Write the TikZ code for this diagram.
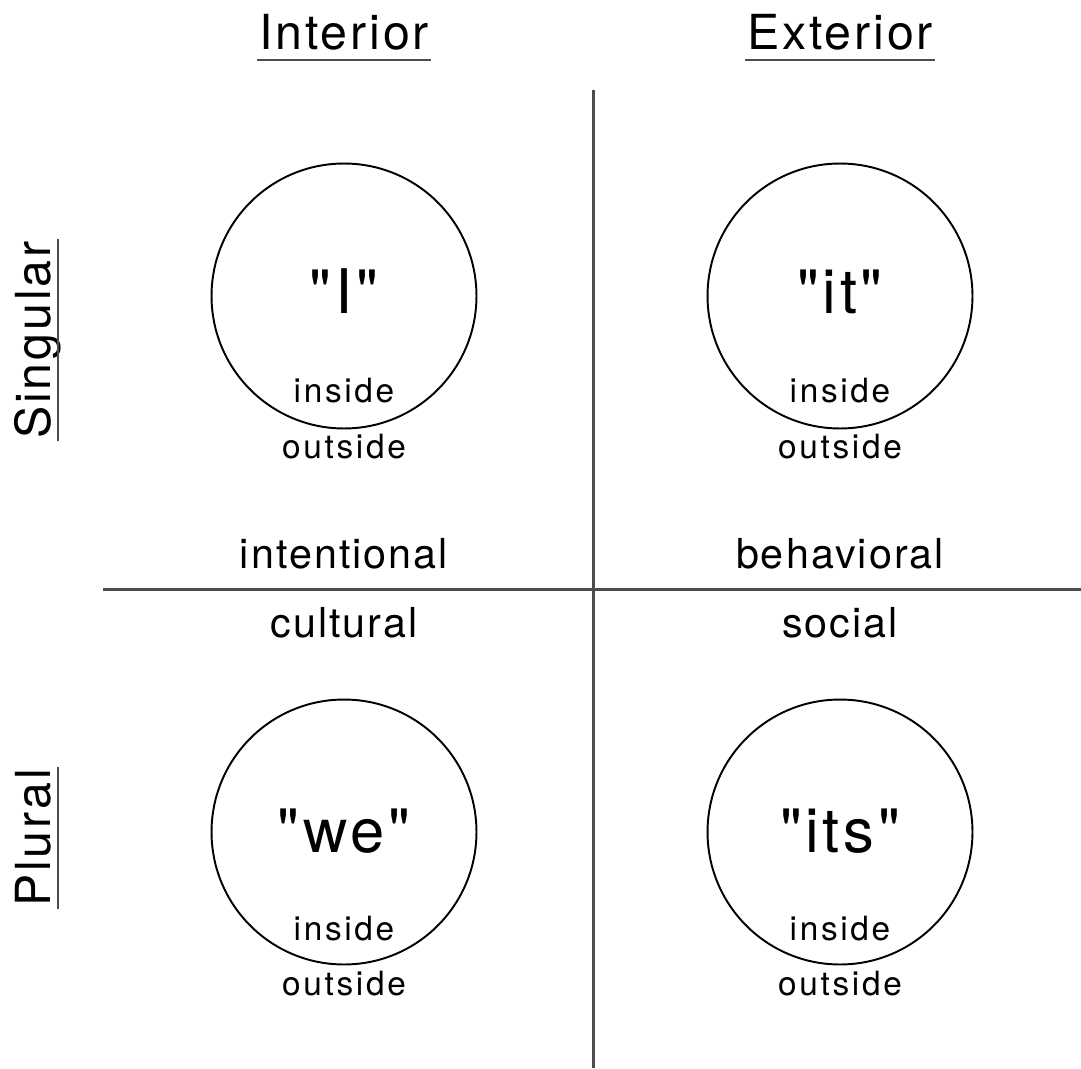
\documentclass[tikz,border=0pt]{standalone}
\usepackage{fontspec}
\setmainfont{TeX Gyre Heros}[Ligatures=TeXOff]
\usepackage{tikz}
\usetikzlibrary{calc}

\begin{document}
\begin{tikzpicture}[x=0.02cm, y=-0.02cm,
    head/.style={inner sep=0pt, font=\fontsize{27.5}{30}\selectfont\addfontfeature{LetterSpace=6}},
    pron/.style={inner sep=0pt, font=\fontsize{35}{38}\selectfont\addfontfeature{LetterSpace=6}},
    quad/.style={inner sep=0pt, font=\fontsize{23.5}{26}\selectfont\addfontfeature{LetterSpace=5}},
    side/.style={inner sep=0pt, font=\fontsize{19}{21}\selectfont\addfontfeature{LetterSpace=8}},
    axis/.style={draw=black!70, line width=1.7pt},
    uline/.style={draw=black!70, line width=1.6pt},
    ring/.style={draw, circle, line width=1.1pt, minimum size=5.3cm, inner sep=0pt}]
    \useasboundingbox (0,0) rectangle (1081,1068);

    % Axes
    \coordinate (vtop) at (593,90);
    \coordinate (vbot) at (593,1068);
    \coordinate (hleft) at (103,589);
    \coordinate (hright) at (1081,589);
    \draw[axis] (vtop) -- (vbot);
    \draw[axis] (hleft) -- (hright);

    % Column and row headings
    \node[head, anchor=base] (int) at (344,50) {Interior};
    \node[head, anchor=base] (ext) at (840,50) {Exterior};
    \node[head, anchor=base, rotate=90] (sing) at (50,340) {Singular};
    \node[head, anchor=base, rotate=90] (plur) at (50,838) {Plural};

    \draw[uline] ($(int.base west)+(-2,10)$) -- ($(int.base east)+(2,10)$);
    \draw[uline] ($(ext.base west)+(-2,10)$) -- ($(ext.base east)+(2,10)$);
    \draw[uline] ($(sing.base west)+(8,2)$) -- ($(sing.base east)+(8,-2)$);
    \draw[uline] ($(plur.base west)+(8,2)$) -- ($(plur.base east)+(8,-2)$);

    % Quadrant circles
    \node[ring] (ci) at (344,296) {};
    \node[ring] (cit) at (840,296) {};
    \node[ring] (cwe) at (344,832) {};
    \node[ring] (cits) at (840,832) {};

    \node[pron, anchor=base] (ti) at (344,313) {"I"};
    \node[pron, anchor=base] (tit) at (840,313) {"it"};
    \node[pron, anchor=base] (twe) at (344,852) {"we"};
    \node[pron, anchor=base] (tits) at (840,852) {"its"};

    % Inside / outside
    \node[side, anchor=base] (ini) at (344,402) {inside};
    \node[side, anchor=base] (outi) at (344,458) {outside};
    \node[side, anchor=base] (init) at (840,402) {inside};
    \node[side, anchor=base] (outit) at (840,458) {outside};
    \node[side, anchor=base] (inwe) at (344,940) {inside};
    \node[side, anchor=base] (outwe) at (344,995) {outside};
    \node[side, anchor=base] (inits) at (840,940) {inside};
    \node[side, anchor=base] (outits) at (840,995) {outside};

    % Quadrant names
    \node[quad, anchor=base] (intent) at (344,568) {intentional};
    \node[quad, anchor=base] (behav) at (840,568) {behavioral};
    \node[quad, anchor=base] (cult) at (344,637) {cultural};
    \node[quad, anchor=base] (soc) at (840,637) {social};
\end{tikzpicture}
\end{document}
